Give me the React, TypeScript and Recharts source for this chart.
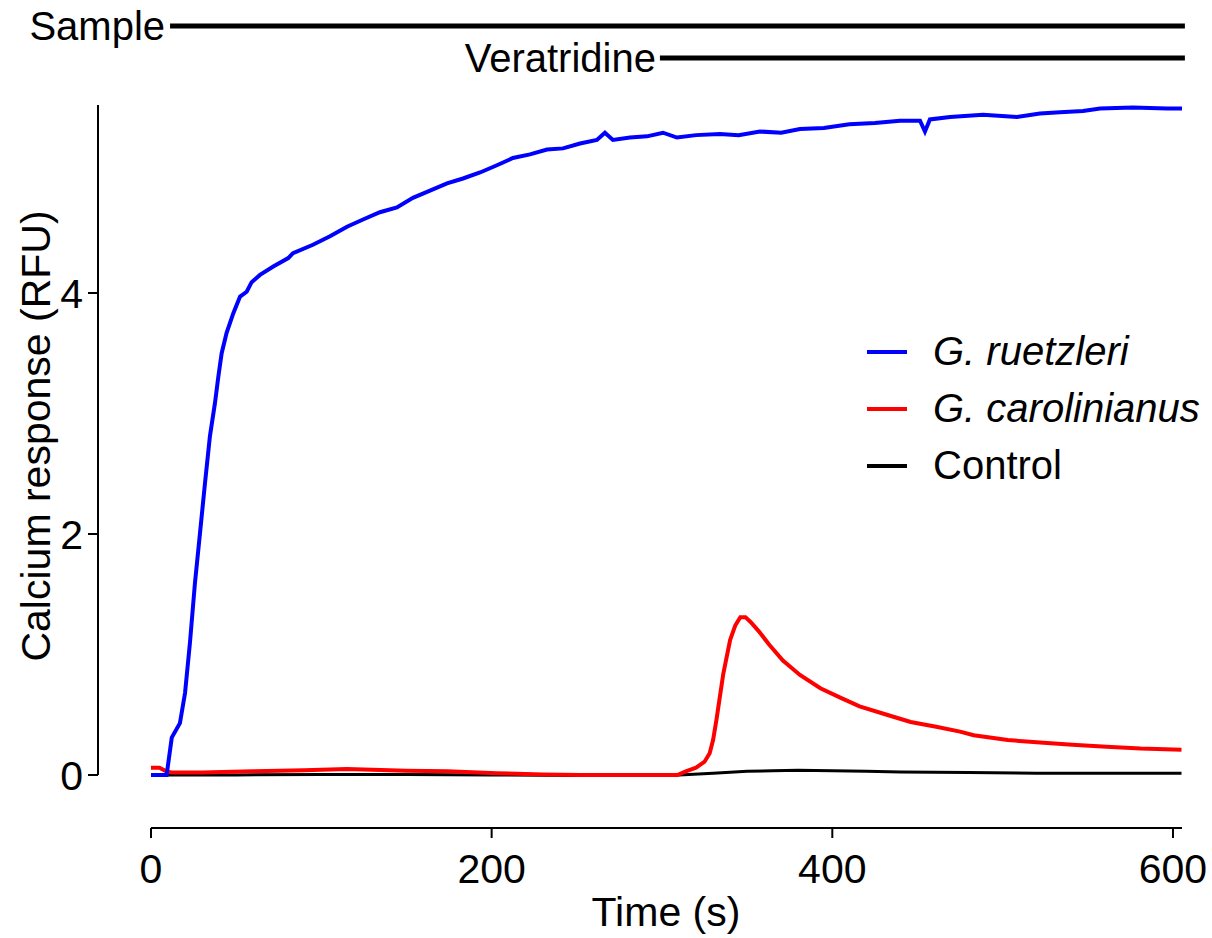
import { LineChart, Line, XAxis, YAxis, ReferenceLine, Legend } from "recharts";

// [time (s), calcium response (RFU)]
const ruetzleri: [number, number][] = [
  [0, 0], [5, 0], [9.2, 0], [12.2, 0.31], [17, 0.43], [20, 0.68], [22.9, 1.1], [25.8, 1.59],
  [28.8, 2.01], [31.7, 2.42], [34.6, 2.81], [37.6, 3.09], [39.5, 3.3], [41.5, 3.5], [44.4, 3.67],
  [48.3, 3.83], [52.3, 3.97], [56.2, 4.01], [59.1, 4.09], [64, 4.15], [71.8, 4.22], [80.6, 4.29],
  [83.4, 4.33], [95.1, 4.4], [105.1, 4.47], [115.1, 4.55], [124.5, 4.61], [134.4, 4.67],
  [144.4, 4.71], [153.8, 4.79], [163.8, 4.85], [173.8, 4.91], [183.2, 4.95], [193.2, 5.0],
  [203.1, 5.06], [212.5, 5.12], [222.5, 5.15], [232.5, 5.19], [241.9, 5.2], [251.9, 5.24],
  [261.8, 5.27], [266.5, 5.33], [271.2, 5.27], [281.2, 5.29], [291.2, 5.3], [300.6, 5.33],
  [308.8, 5.29], [320, 5.31], [334, 5.32], [345, 5.31], [357.5, 5.34], [370, 5.33], [381, 5.36],
  [395, 5.37], [410, 5.4], [425, 5.41], [439.7, 5.43], [451.5, 5.43], [454.4, 5.34], [457.3, 5.44],
  [469.1, 5.46], [488.5, 5.48], [508.4, 5.46], [521.9, 5.49], [533.7, 5.5], [547.2, 5.51],
  [557.2, 5.53], [576.5, 5.54], [596.5, 5.53], [605.3, 5.53],
];

const carolinianus: [number, number][] = [
  [0, 0.06], [5, 0.06], [9, 0.03], [12, 0.02], [30, 0.02], [60, 0.03], [90, 0.04], [115, 0.05],
  [150, 0.035], [174, 0.03], [203, 0.015], [230, 0.005], [252, 0], [280, 0], [300, 0], [309, 0],
  [314, 0.03], [320, 0.06], [325, 0.11], [328, 0.18], [330, 0.29], [332, 0.46], [334, 0.65],
  [336, 0.84], [338, 0.98], [340, 1.12], [343, 1.24], [346, 1.31], [349, 1.31], [352, 1.27],
  [357, 1.19], [363, 1.08], [371, 0.95], [381, 0.83], [393, 0.72], [405, 0.64], [416, 0.57],
  [432, 0.5], [446, 0.44], [461, 0.4], [475, 0.36], [483, 0.33], [503, 0.29], [522, 0.27],
  [541, 0.25], [561, 0.235], [581, 0.22], [605, 0.21],
];

const control: [number, number][] = [
  [0, 0], [50, 0], [100, 0.005], [150, 0.005], [200, 0], [250, -0.005], [300, -0.005], [310, 0],
  [330, 0.015], [350, 0.03], [365, 0.035], [380, 0.04], [400, 0.035], [420, 0.03], [440, 0.025],
  [480, 0.02], [520, 0.015], [560, 0.015], [605, 0.015],
];

const xTicks = [0, 200, 400, 600];
const yTicks = [0, 2, 4];
const legendItems = [
  { name: "G. ruetzleri", color: "#0000ff", italic: true },
  { name: "G. carolinianus", color: "#ff0000", italic: true },
  { name: "Control", color: "#000000", italic: false },
];

const font = "'Liberation Sans', Arial, sans-serif";
const toRows = (pts: [number, number][]) => pts.map(([t, v]) => ({ t, v }));

const LegendBox = () => (
  <div style={{ fontFamily: font, fontSize: 40, color: "#000" }}>
    {legendItems.map((item) => (
      <div key={item.name} style={{ display: "flex", alignItems: "center", height: 57 }}>
        <span style={{ display: "inline-block", width: 40, height: 4, background: item.color, marginRight: 26 }} />
        <span style={{ fontStyle: item.italic ? "italic" : "normal" }}>{item.name}</span>
      </div>
    ))}
  </div>
);

const YTitle = () => (
  <text x={50} y={436} transform="rotate(-90 50 436)" textAnchor="middle" fontSize={41} fontFamily={font} fill="#000">
    Calcium response (RFU)
  </text>
);

const XTitle = () => (
  <text x={666} y={926} textAnchor="middle" fontSize={41} fontFamily={font} fill="#000">
    Time (s)
  </text>
);

export default function App() {
  return (
    <div style={{ position: "absolute", left: 0, top: 0, width: 1212, height: 938, background: "#fff" }}>
      <LineChart width={1212} height={938} margin={{ top: 105, right: 30, bottom: 50, left: 38 }}>
        <XAxis
          type="number"
          dataKey="t"
          domain={[-31.1, 605.3]}
          allowDataOverflow
          ticks={xTicks}
          height={60}
          axisLine={false}
          tickLine={{ stroke: "#000", strokeWidth: 2 }}
          tickSize={10}
          tickMargin={16}
          tick={{ fontSize: 41, fontFamily: font, fill: "#000" }}
          label={<XTitle />}
        />
        <YAxis
          type="number"
          domain={[-0.44, 5.56]}
          allowDataOverflow
          ticks={yTicks}
          width={60}
          axisLine={false}
          tickLine={{ stroke: "#000", strokeWidth: 2 }}
          tickSize={10}
          tickMargin={5}
          tick={{ fontSize: 41, fontFamily: font, fill: "#000" }}
          label={<YTitle />}
        />
        <ReferenceLine segment={[{ x: -31.1, y: 0 }, { x: -31.1, y: 5.56 }]} stroke="#000" strokeWidth={2} ifOverflow="visible" />
        <ReferenceLine segment={[{ x: 0, y: -0.44 }, { x: 605.3, y: -0.44 }]} stroke="#000" strokeWidth={2} ifOverflow="visible" />
        <ReferenceLine
          segment={[{ x: 11.2, y: 6.216 }, { x: 607, y: 6.216 }]}
          stroke="#000"
          strokeWidth={5}
          ifOverflow="visible"
          label={{ value: "Sample", position: "left", offset: 5, fontSize: 40, fontFamily: font, fill: "#000" }}
        />
        <ReferenceLine
          segment={[{ x: 298.8, y: 5.95 }, { x: 607, y: 5.95 }]}
          stroke="#000"
          strokeWidth={5}
          ifOverflow="visible"
          label={{ value: "Veratridine", position: "left", offset: 4, fontSize: 40, fontFamily: font, fill: "#000" }}
        />
        <Line data={toRows(control)} dataKey="v" name="Control" stroke="#000" strokeWidth={3} dot={false} isAnimationActive={false} />
        <Line data={toRows(carolinianus)} dataKey="v" name="G. carolinianus" stroke="#ff0000" strokeWidth={4} dot={false} isAnimationActive={false} />
        <Line data={toRows(ruetzleri)} dataKey="v" name="G. ruetzleri" stroke="#0000ff" strokeWidth={4} dot={false} isAnimationActive={false} />
        <Legend
          layout="vertical"
          align="center"
          verticalAlign="middle"
          content={<LegendBox />}
          wrapperStyle={{ position: "absolute", left: 867, top: 323, width: 345, height: 171 }}
        />
      </LineChart>
    </div>
  );
}
